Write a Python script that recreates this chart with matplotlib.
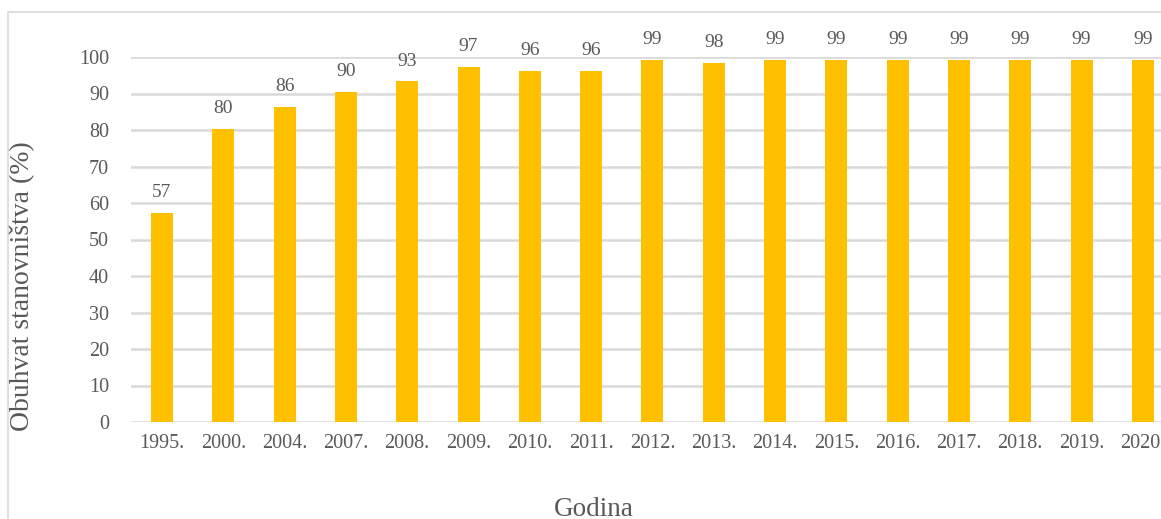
import matplotlib
matplotlib.use("Agg")
import matplotlib.pyplot as plt
from matplotlib.patches import Rectangle

years = ["1995.", "2000.", "2004.", "2007.", "2008.", "2009.", "2010.", "2011.", "2012.",
         "2013.", "2014.", "2015.", "2016.", "2017.", "2018.", "2019.", "2020."]
values = [57.3, 80.3, 86.3, 90.4, 93.3, 97.2, 96.3, 96.3, 99.3, 98.4, 99.3, 99.3, 99.3,
          99.3, 99.3, 99.3, 99.3]
labels = ["57", "80", "86", "90", "93", "97", "96", "96", "99", "98", "99", "99", "99",
          "99", "99", "99", "99"]
yticks = [0, 10, 20, 30, 40, 50, 60, 70, 80, 90, 100]

plt.rcParams['font.family'] = ['Liberation Serif', 'DejaVu Serif']
W, H = 1161, 519
fig = plt.figure(figsize=(W / 100, H / 100), dpi=100)

# outer chart frame
fig.patches.append(Rectangle((8 / W, -0.1), 1.2, (H - 12) / H + 0.1, transform=fig.transFigure,
                             fill=False, edgecolor='#d9d9d9', linewidth=1.2))

left, right = 131.4, 1173.5
bottom, top = 422, 57
ax = fig.add_axes([left / W, (H - bottom) / H, (right - left) / W, (bottom - top) / H])
ax.set_ylim(0, 100)
ax.set_xlim(-0.5, len(years) - 0.5)

x = list(range(len(years)))
ax.bar(x, values, width=0.36, color='#ffc000', zorder=3)
for xi, v, lab in zip(x, values, labels):
    ax.annotate(lab, (xi, v), xytext=(0, 8.5), textcoords='offset points', ha='center',
                va='bottom', fontsize=14, color='#595959', annotation_clip=False)

ax.set_yticks(yticks)
ax.set_yticklabels([str(t) for t in yticks])
ax.set_xticks(x)
ax.set_xticklabels(years)
ax.tick_params(axis='y', length=0, pad=16, labelsize=14.5, labelcolor='#595959')
ax.tick_params(axis='x', length=0, pad=9, labelsize=14.5, labelcolor='#595959')
ax.yaxis.grid(True, color='#d9d9d9', linewidth=1.8, zorder=0)
ax.set_axisbelow(True)
for s in ax.spines.values():
    s.set_visible(False)

fig.text(22 / W, 1 - 286 / H, "Obuhvat stanovništva (%)", rotation=90, ha='center', va='center',
         fontsize=20, color='#595959')
fig.text(594 / W, 1 - 509 / H, "Godina", ha='center', va='center', fontsize=19.5, color='#595959')

fig.savefig("out.png", dpi=100)
